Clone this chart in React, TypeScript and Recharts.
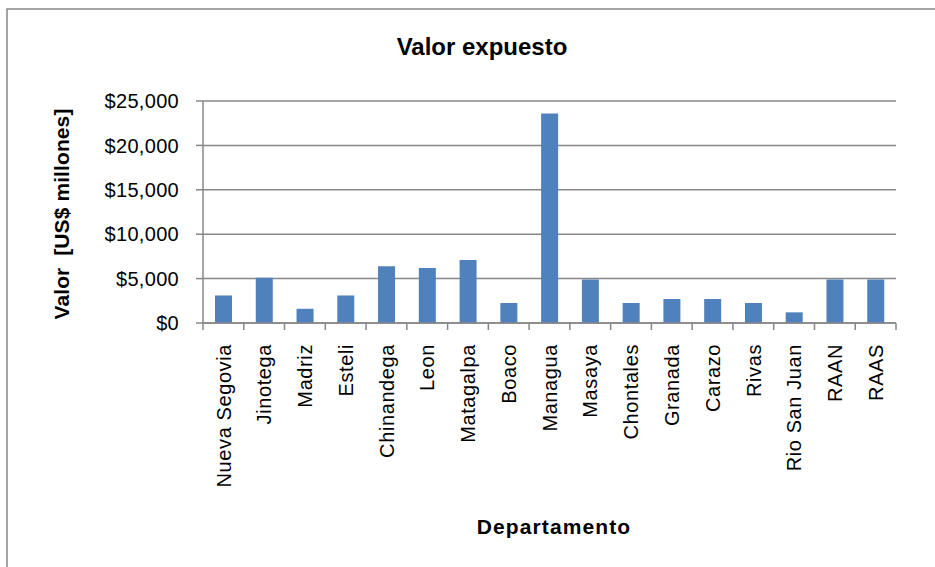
import React from "react";
import { BarChart, Bar, XAxis, YAxis, CartesianGrid } from "recharts";

const categories = [
  "Nueva Segovia", "Jinotega", "Madriz", "Esteli", "Chinandega", "Leon", "Matagalpa",
  "Boaco", "Managua", "Masaya", "Chontales", "Granada", "Carazo", "Rivas",
  "Rio San Juan", "RAAN", "RAAS",
];
const values = [3100, 5100, 1600, 3100, 6400, 6200, 7100, 2250, 23600, 4900, 2250, 2700, 2700, 2250, 1200, 4900, 4900];
const yTicks = [0, 5000, 10000, 15000, 20000, 25000];

const chartTitle = "Valor expuesto";
const xTitle = "Departamento";
const yTitle = "Valor\u00a0 [US$ millones]";

const data = categories.map((name, i) => ({ name, value: values[i] }));

const FONT = "'Liberation Sans', Arial, sans-serif";
const GRAY = "#878787";

const fmt = (v: number) => "$" + v.toLocaleString("en-US");

const XTick = (props: any) => {
  const { x, y, payload, index, width } = props;
  const band = width / categories.length;
  const left = x - band / 2;
  const right = x + band / 2;
  return (
    <g>
      <line x1={left} y1={y} x2={left} y2={y + 7} stroke={GRAY} strokeWidth={1.5} />
      {index === categories.length - 1 && (
        <line x1={right} y1={y} x2={right} y2={y + 7} stroke={GRAY} strokeWidth={1.5} />
      )}
      <text
        transform={`translate(${x},${y + 21}) rotate(-90)`}
        textAnchor="end"
        dy="0.36em"
        fontSize={20}
        letterSpacing={0.6}
        fill="#000"
        fontFamily={FONT}
      >
        {payload.value}
      </text>
    </g>
  );
};

export default function App() {
  return (
    <div style={{ position: "absolute", left: 0, top: 0, width: 935, height: 567, background: "#fff", overflow: "hidden" }}>
      <BarChart
        width={935}
        height={567}
        data={data}
        margin={{ top: 101, right: 39, left: 0, bottom: 44 }}
        barSize={17}
      >
        <CartesianGrid horizontal vertical={false} stroke={GRAY} strokeWidth={1.5} />
        <XAxis
          dataKey="name"
          interval={0}
          height={200}
          tickLine={false}
          tickSize={0}
          tickMargin={0}
          axisLine={{ stroke: GRAY, strokeWidth: 1.5 }}
          tick={<XTick />}
        />
        <YAxis
          width={203}
          domain={[0, 25000]}
          ticks={yTicks}
          tickFormatter={fmt}
          tickSize={7}
          tickMargin={17}
          tickLine={{ stroke: GRAY, strokeWidth: 1.5 }}
          axisLine={{ stroke: GRAY, strokeWidth: 1.5 }}
          tick={{ fill: "#000", fontSize: 20, fontFamily: FONT, letterSpacing: 0.3 }}
        />
        <Bar dataKey="value" fill="#4F81BD" isAnimationActive={false} />
      </BarChart>
      <svg width={935} height={567} style={{ position: "absolute", left: 0, top: 0, pointerEvents: "none" }}>
        <rect x={7} y={9} width={1000} height={1000} fill="none" stroke={GRAY} strokeWidth={1.5} />
        <text x={482} y={55} textAnchor="middle" fontSize={24} fontWeight="bold" fontFamily={FONT} fill="#000">
          {chartTitle}
        </text>
        <text x={554} y={534} textAnchor="middle" fontSize={21} fontWeight="bold" letterSpacing={1.1} fontFamily={FONT} fill="#000">
          {xTitle}
        </text>
        <text
          transform="translate(61,214) rotate(-90)"
          textAnchor="middle"
          dy="0.36em"
          fontSize={21}
          fontWeight="bold"
          letterSpacing={0.1}
          fontFamily={FONT}
          fill="#000"
        >
          {yTitle}
        </text>
      </svg>
    </div>
  );
}
